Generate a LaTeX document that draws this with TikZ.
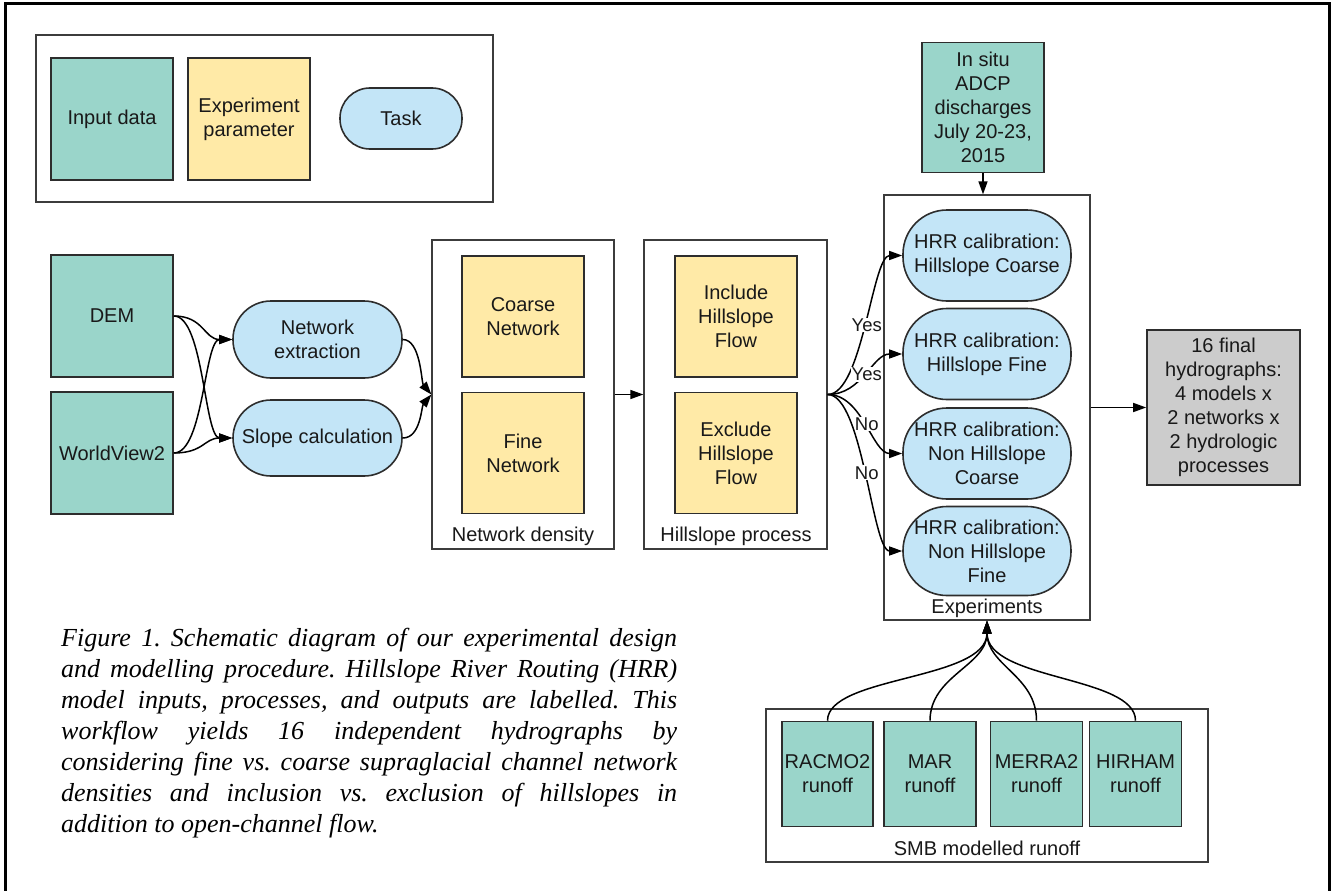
\documentclass[tikz,border=0pt]{standalone}
\usepackage{fontspec}
\setmainfont{Liberation Sans}
\newfontfamily\capfont{Liberation Serif}
\usetikzlibrary{arrows.meta}
\definecolor{tealc}{RGB}{154,213,202}
\definecolor{yellowc}{RGB}{255,234,167}
\definecolor{bluec}{RGB}{195,229,247}
\definecolor{grayc}{RGB}{204,204,204}
\definecolor{bordc}{RGB}{45,45,45}
\definecolor{grpc}{RGB}{60,60,60}
\definecolor{txtc}{RGB}{25,25,25}
\tikzset{
  every node/.style={font=\fontsize{20}{24}\selectfont, text=txtc},
  base/.style={draw=bordc, line width=1.6pt, align=center, inner sep=0pt},
  data/.style={base, fill=tealc},
  param/.style={base, fill=yellowc, minimum width=122pt, minimum height=121pt},
  task/.style={base, fill=bluec},
  grp/.style={draw=grpc, line width=1.3pt, inner sep=0pt},
  outc/.style={base, fill=grayc},
  arr/.style={-{Triangle[length=13pt,width=9pt]}, line width=1.5pt, draw=black},
  lbl/.style={fill=white, inner sep=1pt, font=\fontsize{18.5}{22}\selectfont},
  glbl/.style={inner sep=0pt}
}
\begin{document}
\begin{tikzpicture}[x=1pt,y=-1pt]
\useasboundingbox (0,0) rectangle (1333,891);
% outer frame
\draw[line width=3pt, black] (5,900) -- (5,4) -- (1329,4) -- (1329,900);

% legend
\node[grp, minimum width=457pt, minimum height=167pt] (legend) at (264.5,118.5) {};
\node[data, minimum width=122pt, minimum height=122pt] (legin) at (112,119) {Input data};
\node[param, minimum height=122pt] (legpar) at (249,119) {Experiment\\parameter};
\node[task, minimum width=122pt, minimum height=61pt, rounded corners=30pt] (legtask) at (401,118.5) {Task};

% inputs
\node[data, minimum width=122pt, minimum height=122pt] (dem) at (112,316) {DEM};
\node[data, minimum width=122pt, minimum height=122pt] (wv) at (112,453) {WorldView2};

% tasks
\node[task, minimum width=169pt, minimum height=77pt, rounded corners=38pt] (netex) at (317.5,339.5) {Network\\extraction};
\node[task, minimum width=169pt, minimum height=76pt, rounded corners=38pt] (slope) at (317.5,438) {Slope calculation};

% network density group
\node[grp, minimum width=182pt, minimum height=309pt] (nd) at (523,394.5) {};
\node[param] (coarse) at (523,316.5) {Coarse\\Network};
\node[param] (fine) at (523,453) {Fine\\Network};
\node[glbl] (ndl) at (523,536) {Network density};

% hillslope process group
\node[grp, minimum width=183pt, minimum height=309pt] (hp) at (735.5,394.5) {};
\node[param] (incl) at (736,316.5) {Include\\Hillslope\\Flow};
\node[param] (excl) at (736,453) {Exclude\\Hillslope\\Flow};
\node[glbl] (hpl) at (736,536) {Hillslope process};

% experiments group
\node[grp, minimum width=206pt, minimum height=425pt] (exp) at (987,407.5) {};
\node[task, minimum width=168pt, minimum height=91pt, rounded corners=44pt] (h1) at (987,255.5) {HRR calibration:\\Hillslope Coarse};
\node[task, minimum width=168pt, minimum height=91pt, rounded corners=44pt] (h2) at (987,354) {HRR calibration:\\Hillslope Fine};
\node[task, minimum width=168pt, minimum height=91pt, rounded corners=44pt] (h3) at (987,453.5) {HRR calibration:\\Non Hillslope\\Coarse};
\node[task, minimum width=168pt, minimum height=89pt, rounded corners=44pt] (h4) at (987,551) {HRR calibration:\\Non Hillslope\\Fine};
\node[glbl] (expl) at (987,608) {Experiments};

% in situ
\node[data, minimum width=122pt, minimum height=130pt] (insitu) at (983,107.5) {In situ\\ADCP\\discharges\\July 20-23,\\2015};

% output
\node[outc, minimum width=153pt, minimum height=155pt] (final) at (1223.5,407.5) {16 final\\hydrographs:\\4 models x\\2 networks x\\2 hydrologic\\processes};

% SMB group
\node[grp, minimum width=442pt, minimum height=153pt] (smb) at (987,785.5) {};
\node[data, minimum width=91pt, minimum height=105pt] (racmo) at (827.5,774) {RACMO2\\runoff};
\node[data, minimum width=92pt, minimum height=105pt] (mar) at (930,774) {MAR\\runoff};
\node[data, minimum width=92pt, minimum height=105pt] (merra) at (1036.5,774) {MERRA2\\runoff};
\node[data, minimum width=92pt, minimum height=105pt] (hirham) at (1135.5,774) {HIRHAM\\runoff};
\node[glbl] (smbl) at (987,848) {SMB modelled runoff};

% caption
\node[anchor=base west, inner sep=0pt, text=black] (cap) at (61,646) {\parbox[t]{616pt}{\capfont\itshape\fontsize{26}{31}\selectfont\frenchspacing\tolerance=10000
Figure 1. Schematic diagram of our experimental design\linebreak
and modelling procedure. Hillslope River Routing (HRR)\linebreak
model inputs, processes, and outputs are labelled. This\linebreak
workflow yields 16 independent hydrographs by\linebreak
considering fine vs. coarse supraglacial channel network\linebreak
densities and inclusion vs. exclusion of hillslopes in\linebreak
addition to open-channel flow.}};

% connectors: inputs -> tasks
\draw[arr] (dem.east) .. controls +(30,0) and +(-28,0) .. (netex.west);
\draw[arr] (dem.east) .. controls +(30,0) and +(-28,0) .. (slope.west);
\draw[arr] (wv.east) .. controls +(30,0) and +(-28,0) .. (netex.west);
\draw[arr] (wv.east) .. controls +(30,0) and +(-28,0) .. (slope.west);
% tasks -> network density
\draw[arr] (netex.east) .. controls +(18,0) and +(-10,-12) .. (nd.west);
\draw[arr] (slope.east) .. controls +(18,0) and +(-10,12) .. (nd.west);
% nd -> hp
\draw[arr] (nd.east) -- (hp.west);
% hp -> experiments
\draw[arr] (hp.east) .. controls +(35,0) and +(-30,0) .. node[lbl, pos=0.5] {Yes} (h1.west);
\draw[arr] (hp.east) .. controls +(35,0) and +(-30,0) .. node[lbl, pos=0.5] {Yes} (h2.west);
\draw[arr] (hp.east) .. controls +(35,0) and +(-30,0) .. node[lbl, pos=0.5] {No} (h3.west);
\draw[arr] (hp.east) .. controls +(35,0) and +(-30,0) .. node[lbl, pos=0.5] {No} (h4.west);
% in situ -> experiments
\draw[arr] (insitu.south) -- (insitu.south |- exp.north);
% experiments -> final
\draw[arr] (exp.east) -- (final.west);
% SMB -> experiments
\draw[arr] (racmo.north) .. controls +(0,-45) and +(0,60) .. (exp.south);
\draw[arr] (mar.north) .. controls +(0,-45) and +(0,45) .. (exp.south);
\draw[arr] (merra.north) .. controls +(0,-45) and +(0,45) .. (exp.south);
\draw[arr] (hirham.north) .. controls +(0,-45) and +(0,60) .. (exp.south);
\end{tikzpicture}
\end{document}
